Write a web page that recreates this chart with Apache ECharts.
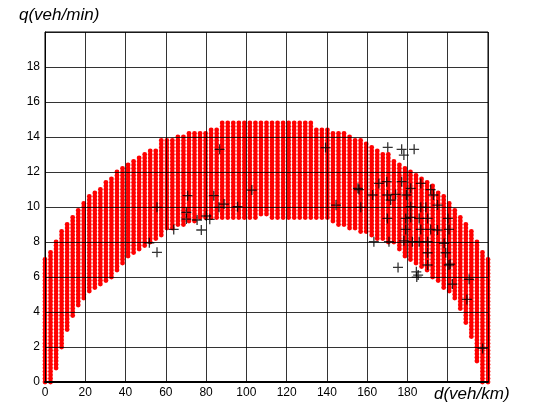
<!DOCTYPE html>
<html>
<head>
<meta charset="utf-8">
<script src="https://cdn.jsdelivr.net/npm/echarts@6/dist/echarts.min.js"></script>
<style>
html,body{margin:0;padding:0;background:#fff;}
#chart{width:539px;height:412px;}
</style>
</head>
<body>
<div id="chart"></div>
<script>
// ---- data ----
// feasible-region lattice: column spacing in d and row spacing in q
const dStep = 2.75;
const qStep = 0.2;
// upper / lower q limit of the red lattice for each column (d = index * dStep, 0..220)
const colHigh = [7.0,7.55,8.05,8.6,9.0,9.5,9.8,10.3,10.6,10.8,11.1,11.4,11.6,12.0,12.3,12.45,12.7,12.9,13.1,13.35,
  13.35,13.8,13.8,13.8,14.1,14.1,14.3,14.3,14.3,14.3,14.5,14.5,14.8,14.8,14.8,14.8,14.8,14.8,14.8,14.8,
  14.8,14.8,14.8,14.8,14.8,14.8,14.8,14.8,14.8,14.5,14.5,14.5,14.3,14.3,14.2,14.0,13.9,13.8,13.6,13.5,
  13.3,13.1,13.0,12.75,12.5,12.35,12.1,11.9,11.7,11.4,11.2,10.9,10.65,10.35,9.9,9.55,9.05,8.6,8.1,7.55,7.0];
const colLow = [0,0,0.8,2.0,3.0,3.8,4.3,4.8,5.2,5.4,5.5,5.8,6.0,6.4,6.8,7.1,7.4,7.6,7.8,7.9,
  8.15,8.4,8.7,8.8,8.9,9.0,9.1,9.2,9.3,9.3,9.3,9.3,9.3,9.3,9.3,9.3,9.3,9.3,9.3,9.5,
  9.5,9.3,9.3,9.3,9.3,9.3,9.3,9.3,9.3,9.3,9.3,9.3,9.1,9.0,8.9,8.7,8.7,8.6,8.5,8.35,
  8.2,8.1,8.0,7.85,7.6,7.2,7.0,6.8,6.6,6.3,6.0,5.7,5.4,5.1,4.7,4.1,3.4,2.6,1.2,0,0];
// measured (d, q) observations shown as black crosses
const obsD = [51.8,55.6,55.6,63.9,70.2,70.2,70.8,75.5,77.6,80.1,81.8,83.8,86.4,88.9,95.6,86.7,102.7,139.3,144.5,155.4,
  156.8,170.2,177.1,183.3,178.2,165.8,169.7,177.1,186.6,181.6,191.5,162.7,170.0,174.1,179.5,192.9,171.6,181.6,186.6,189.1,
  194.9,170.0,179.1,181.6,185.8,190.0,200.1,179.1,186.6,191.5,194.9,200.6,163.3,170.8,178.2,182.4,185.8,190.0,198.2,190.0,
  199.0,190.0,200.6,175.3,184.4,185.3,202.3,210.6,201.2,209.5,217.3,184.6,155.9];
const obsQ = [7.96,7.41,9.98,8.72,9.7,9.31,10.65,9.26,8.69,9.49,9.3,10.65,9.98,10.17,10.02,13.3,10.97,13.4,10.11,11.07,
  9.98,13.41,13.3,13.3,12.97,11.35,11.45,11.45,11.35,11.07,11.0,10.69,10.69,10.72,10.69,10.69,10.4,10.02,9.98,9.98,
  10.11,9.35,9.35,9.41,9.35,9.35,9.35,8.72,8.72,8.72,8.69,8.72,8.02,8.02,8.07,8.02,8.02,8.02,7.93,7.39,
  7.39,6.69,6.69,6.55,6.3,6.11,5.6,5.87,6.74,4.72,1.92,6.0,11.0];
const xTicks = [0,20,40,60,80,100,120,140,160,180];
const yTicks = [0,2,4,6,8,10,12,14,16,18];

// ---- build series data ----
const lattice = [];
for (let i = 0; i < colHigh.length; i++) {
  const d = i * dStep;
  const k0 = Math.ceil(colLow[i] / qStep - 1e-6);
  const k1 = Math.floor(colHigh[i] / qStep + 1e-6);
  for (let k = k0; k <= k1; k++) lattice.push([d, +(k * qStep).toFixed(3)]);
}
const obs = obsD.map((d, i) => [d, obsQ[i]]);

const chart = echarts.init(document.getElementById('chart'), null, {renderer: 'canvas'});
const labelFont = {color: '#000', fontSize: 12, fontFamily: 'Liberation Sans, Arial, sans-serif'};
chart.setOption({
  animation: false,
  backgroundColor: '#fff',
  grid: {left: 45, right: 51, top: 32, bottom: 30, show: true, borderColor: '#000', borderWidth: 1, backgroundColor: 'transparent'},
  xAxis: {
    type: 'value', min: 0, max: 220, interval: 20, z: 5,
    axisLine: {show: true, onZero: false, lineStyle: {color: '#000', width: 2}},
    axisTick: {show: false},
    splitLine: {show: true, lineStyle: {color: 'rgba(0,0,0,0.8)', width: 1}},
    axisLabel: Object.assign({margin: 5, formatter: v => xTicks.indexOf(v) >= 0 ? String(v) : ''}, labelFont)
  },
  yAxis: {
    type: 'value', min: 0, max: 20, interval: 2, z: 5,
    axisLine: {show: true, onZero: false, lineStyle: {color: '#000', width: 1}},
    axisTick: {show: false},
    splitLine: {show: true, lineStyle: {color: 'rgba(0,0,0,0.8)', width: 1}},
    axisLabel: Object.assign({margin: 5, formatter: v => yTicks.indexOf(v) >= 0 ? String(v) : ''}, labelFont)
  },
  series: [
    {
      type: 'scatter', data: lattice, symbol: 'circle', symbolSize: 4.8, z: 2,
      itemStyle: {color: '#ff0000', opacity: 1}, clip: false, silent: true
    },
    {
      type: 'scatter', data: obs, z: 6, clip: false, silent: true,
      symbol: 'path://M4.4,0h1.3v10h-1.3z M0,4.4h10v1.3h-10z', symbolSize: 10,
      itemStyle: {color: '#000'}
    }
  ],
  graphic: [
    {type: 'text', left: 19, top: 7, style: {text: 'q(veh/min)', font: 'italic 17px "Liberation Sans", Arial, sans-serif', fill: '#000'}},
    {type: 'text', left: 434, top: 386, style: {text: 'd(veh/km)', font: 'italic 17px "Liberation Sans", Arial, sans-serif', fill: '#000'}}
  ]
});
</script>
</body>
</html>
